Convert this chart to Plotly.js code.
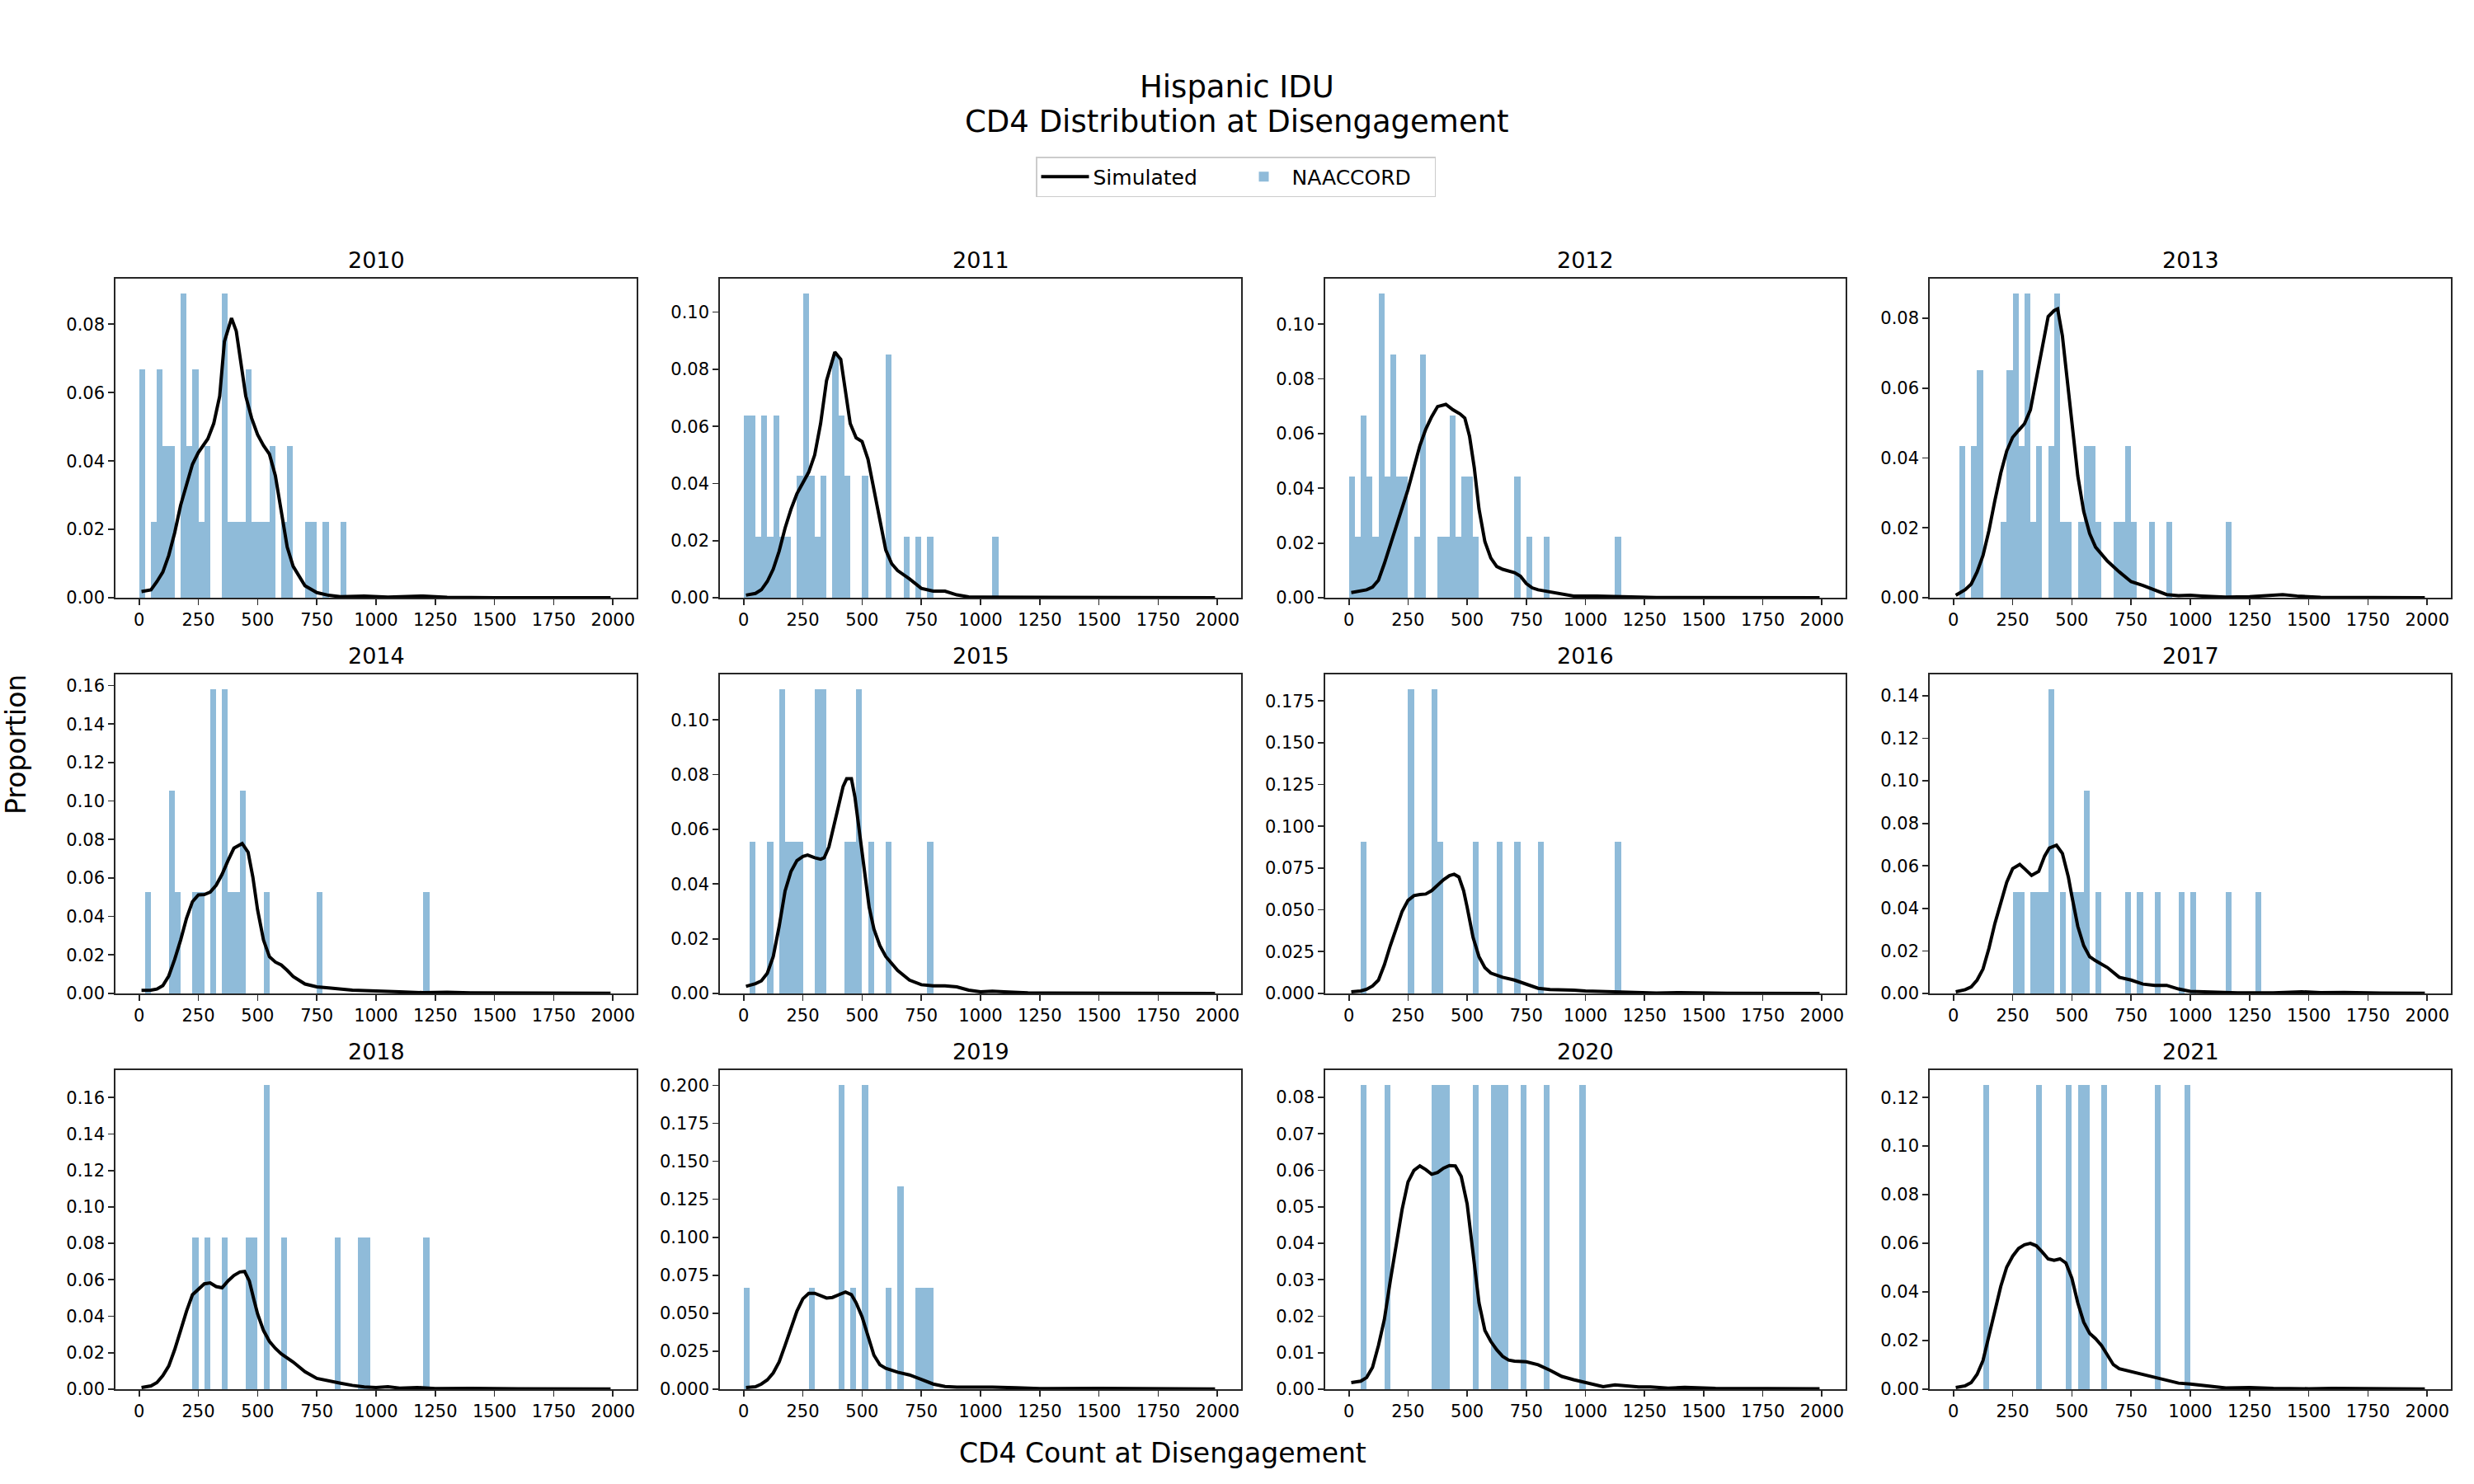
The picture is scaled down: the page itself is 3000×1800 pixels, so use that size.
<!DOCTYPE html>
<html>
<head>
<meta charset="utf-8">
<script src="https://cdn.plot.ly/plotly-3.0.1.min.js"></script>
<style>html,body{margin:0;padding:0;background:#fff;} #chart{width:3000px;height:1800px;}</style>
</head>
<body>
<div id="chart"></div>
<script>
// ---------- DATA ----------
const years = ['2010','2011','2012','2013','2014','2015','2016','2017','2018','2019','2020','2021'];
const xTickVals = [0,250,500,750,1000,1250,1500,1750,2000];

// NAACCORD histogram: bin start (CD4, bin width 25) and proportion
const bins2010 = [0,50,75,100,125,175,200,225,250,275,350,375,400,425,450,475,500,525,550,600,625,700,725,775,850];
const prop2010 = [0.0667,0.0222,0.0667,0.0444,0.0444,0.0889,0.0444,0.0667,0.0222,0.0444,0.0889,0.0222,0.0222,0.0222,0.0667,0.0222,0.0222,0.0222,0.0444,0.0222,0.0444,0.0222,0.0222,0.0222,0.0222];
const bins2011 = [0,25,50,75,100,125,150,175,225,250,275,300,325,375,400,425,500,600,675,725,775,1050];
const prop2011 = [0.0638,0.0638,0.0213,0.0638,0.0213,0.0638,0.0213,0.0213,0.0426,0.1064,0.0426,0.0213,0.0426,0.0851,0.0638,0.0426,0.0426,0.0851,0.0213,0.0213,0.0213,0.0213];
const bins2012 = [0,25,50,75,100,125,150,175,200,225,275,300,375,400,425,450,475,500,525,700,750,825,1125];
const prop2012 = [0.0444,0.0222,0.0667,0.0444,0.0222,0.1111,0.0444,0.0889,0.0444,0.0444,0.0222,0.0889,0.0222,0.0222,0.0667,0.0222,0.0444,0.0444,0.0222,0.0444,0.0222,0.0222,0.0222];
const bins2013 = [25,75,100,200,225,250,275,300,325,350,400,425,450,475,525,550,575,600,675,700,725,750,825,900,1150];
const prop2013 = [0.0435,0.0435,0.0652,0.0217,0.0652,0.0870,0.0435,0.0870,0.0217,0.0435,0.0435,0.0870,0.0217,0.0217,0.0217,0.0435,0.0435,0.0217,0.0217,0.0217,0.0435,0.0217,0.0217,0.0217,0.0217];
const bins2014 = [25,125,150,225,250,300,350,375,400,425,525,750,1200];
const prop2014 = [0.0526,0.1053,0.0526,0.0526,0.0526,0.1579,0.1579,0.0526,0.0526,0.1053,0.0526,0.0526,0.0526];
const bins2015 = [25,100,150,175,200,225,300,325,425,450,475,525,600,775];
const prop2015 = [0.0556,0.0556,0.1111,0.0556,0.0556,0.0556,0.1111,0.1111,0.0556,0.0556,0.1111,0.0556,0.0556,0.0556];
const bins2016 = [50,250,350,375,525,625,700,800,1125];
const prop2016 = [0.0909,0.1818,0.1818,0.0909,0.0909,0.0909,0.0909,0.0909,0.0909];
const bins2017 = [250,275,325,350,375,400,450,500,525,550,600,725,775,850,950,1000,1150,1275];
const prop2017 = [0.0476,0.0476,0.0476,0.0476,0.0476,0.1429,0.0476,0.0476,0.0476,0.0952,0.0476,0.0476,0.0476,0.0476,0.0476,0.0476,0.0476,0.0476];
const bins2018 = [225,275,350,450,475,525,600,825,925,950,1200];
const prop2018 = [0.0833,0.0833,0.0833,0.0833,0.0833,0.1667,0.0833,0.0833,0.0833,0.0833,0.0833];
const bins2019 = [0,275,400,450,500,600,650,725,750,775];
const prop2019 = [0.0667,0.0667,0.2,0.0667,0.2,0.0667,0.1333,0.0667,0.0667,0.0667];
const bins2020 = [50,150,350,375,400,525,600,625,650,725,825,975];
const prop2020 = [0.0833,0.0833,0.0833,0.0833,0.0833,0.0833,0.0833,0.0833,0.0833,0.0833,0.0833,0.0833];
const bins2021 = [125,350,475,525,550,625,850,975];
const prop2021 = [0.125,0.125,0.125,0.125,0.125,0.125,0.125,0.125];

// Simulated density curves
const simX2010 = [10,50,75,100,125,150,175,200,225,250,275,290,315,340,360,390,410,430,450,475,500,525,550,575,600,625,650,700,750,800,850,950,1050,1200,1300,1500,1990];
const simY2010 = [0.0018,0.0023,0.0047,0.0075,0.0124,0.019,0.027,0.033,0.039,0.0425,0.045,0.0465,0.051,0.059,0.075,0.0818,0.078,0.068,0.059,0.0525,0.0477,0.0445,0.042,0.0357,0.025,0.0148,0.0092,0.0035,0.0015,0.0007,0.0003,0.0005,0.0002,0.0005,0.0001,0,0];
const simX2011 = [10,50,75,100,125,150,175,200,225,250,275,300,325,350,385,410,430,450,475,500,525,550,575,600,625,650,700,750,800,850,900,950,1000,1990];
const simY2011 = [0.0009,0.0015,0.0028,0.0057,0.010,0.0163,0.0244,0.031,0.0364,0.040,0.044,0.050,0.061,0.076,0.086,0.0835,0.0725,0.061,0.056,0.0547,0.0485,0.038,0.0263,0.0167,0.0119,0.0095,0.0066,0.0033,0.0023,0.0023,0.001,0.0003,0.0002,0];
const simX2012 = [10,50,75,100,125,150,175,200,225,250,275,300,325,350,375,410,440,470,490,510,530,550,575,600,625,650,700,725,750,775,800,850,900,950,1050,1150,1300,1990];
const simY2012 = [0.0019,0.0024,0.0029,0.0039,0.0064,0.0125,0.0195,0.0265,0.0325,0.0396,0.0476,0.0556,0.0616,0.0662,0.0699,0.0707,0.0687,0.0672,0.0657,0.0591,0.0476,0.0325,0.0205,0.0145,0.0114,0.0104,0.0092,0.0079,0.0052,0.0036,0.0029,0.0022,0.0012,0.0006,0.0006,0.0003,0.0001,0];
const simX2013 = [10,50,75,100,125,150,175,200,225,250,275,300,325,350,375,400,425,440,460,480,500,525,550,575,600,650,700,750,800,850,900,950,1000,1050,1150,1250,1320,1390,1450,1550,1990];
const simY2013 = [0.0007,0.0023,0.0039,0.0074,0.0121,0.0192,0.0278,0.0357,0.042,0.0459,0.0479,0.0498,0.0538,0.0624,0.0718,0.0805,0.0822,0.0827,0.075,0.0624,0.0498,0.0349,0.0247,0.0184,0.0145,0.0105,0.0074,0.0046,0.0035,0.0023,0.0009,0.0006,0.0007,0.0005,0.0002,0.0003,0.0005,0.0009,0.0005,0.0001,0];
const simX2014 = [10,50,75,100,125,150,175,200,225,250,275,300,325,350,375,400,435,460,480,500,525,550,575,600,625,650,700,750,800,850,900,1000,1050,1100,1200,1300,1400,1990];
const simY2014 = [0.0016,0.0017,0.0023,0.0041,0.0091,0.0177,0.0277,0.0391,0.0477,0.0512,0.0514,0.0527,0.0562,0.0619,0.069,0.0755,0.0779,0.0734,0.0605,0.0434,0.0277,0.0191,0.0163,0.0148,0.012,0.0088,0.0049,0.0034,0.0029,0.0023,0.0017,0.0013,0.0009,0.0009,0.0004,0.0006,0.0003,0.0001];
const simX2015 = [10,50,75,100,125,150,175,200,225,250,270,300,325,340,360,380,400,420,435,455,470,485,500,515,530,550,575,600,650,700,750,800,850,900,950,1000,1050,1100,1200,1990];
const simY2015 = [0.0026,0.0036,0.0046,0.0074,0.0135,0.0245,0.0375,0.0446,0.0486,0.0501,0.0506,0.0496,0.0491,0.0496,0.0536,0.0606,0.0687,0.0757,0.0785,0.0785,0.0717,0.0616,0.0506,0.0396,0.0315,0.0235,0.0175,0.0135,0.0084,0.0049,0.0032,0.0028,0.0028,0.0024,0.0012,0.0006,0.0008,0.0006,0.0002,0];
const simX2016 = [10,50,75,100,125,150,175,200,225,250,275,300,325,350,375,400,425,445,465,485,500,525,550,575,600,625,650,700,750,800,850,900,950,1000,1100,1200,1300,1400,1600,1990];
const simY2016 = [0.001,0.0015,0.0025,0.0045,0.008,0.0171,0.0286,0.0393,0.0491,0.0557,0.0585,0.0592,0.0595,0.0615,0.0647,0.068,0.0705,0.0713,0.0697,0.0615,0.0516,0.0335,0.022,0.0154,0.0122,0.0108,0.0097,0.008,0.0056,0.0031,0.0023,0.0023,0.002,0.0015,0.001,0.0007,0.0003,0.0005,0.0001,0];
const simX2017 = [10,50,75,100,125,150,175,200,225,250,280,300,330,360,385,405,435,460,485,500,525,550,575,600,650,700,750,800,850,900,950,1000,1100,1200,1350,1470,1550,1650,1800,1990];
const simY2017 = [0.0008,0.0018,0.0031,0.0063,0.0115,0.0212,0.0329,0.0432,0.0523,0.0587,0.0607,0.0587,0.0555,0.0574,0.0646,0.0684,0.0697,0.0659,0.0549,0.0458,0.0316,0.0225,0.0173,0.0154,0.0122,0.0076,0.0063,0.0044,0.0038,0.0038,0.0021,0.001,0.0005,0.0003,0.0003,0.0008,0.0004,0.0005,0.0002,0.0001];
const simX2018 = [10,50,75,100,125,150,175,200,225,250,275,300,325,350,375,400,425,445,465,485,500,525,550,575,600,650,700,750,800,850,900,950,1000,1050,1100,1175,1250,1400,1600,1990];
const simY2018 = [0.0009,0.0018,0.0036,0.0074,0.0127,0.0217,0.0322,0.0428,0.0518,0.0548,0.0578,0.0583,0.0563,0.0556,0.0594,0.0624,0.0643,0.0646,0.0594,0.0488,0.0413,0.0322,0.0262,0.0224,0.0194,0.0149,0.0096,0.0059,0.0044,0.0033,0.0021,0.0012,0.0009,0.0014,0.0006,0.0009,0.0003,0.0005,0.0002,0.0001];
const simX2019 = [10,50,75,100,125,150,175,200,225,250,275,300,325,350,375,400,430,455,475,500,525,550,575,600,650,700,750,800,850,900,1000,1050,1150,1250,1500,1700,1990];
const simY2019 = [0.0011,0.0016,0.0034,0.0061,0.0107,0.0179,0.0288,0.0405,0.0514,0.0595,0.0631,0.0631,0.0613,0.06,0.0604,0.0622,0.064,0.0622,0.0568,0.0477,0.0351,0.0224,0.0161,0.0137,0.0112,0.0094,0.0065,0.0034,0.0018,0.0014,0.0013,0.0014,0.0009,0.0004,0.0005,0.0002,0.0001];
const simX2020 = [10,50,75,100,125,150,175,200,225,250,275,300,325,350,375,400,425,450,475,500,525,550,575,600,625,650,675,700,750,800,850,900,950,1000,1050,1075,1125,1175,1225,1275,1350,1420,1550,1990];
const simY2020 = [0.0018,0.0022,0.0032,0.006,0.012,0.0191,0.0297,0.0402,0.0493,0.0568,0.06,0.0612,0.0602,0.0589,0.0594,0.0606,0.0613,0.0612,0.0583,0.0508,0.0372,0.0237,0.0161,0.0131,0.0108,0.009,0.008,0.0077,0.0075,0.0067,0.0052,0.0035,0.0026,0.0018,0.0009,0.0007,0.0012,0.0009,0.0006,0.0006,0.0003,0.0005,0.0002,0.0001];
const simX2021 = [10,50,75,100,125,150,175,200,225,250,275,300,325,350,375,400,425,450,475,500,525,550,575,600,625,650,675,700,750,800,850,900,950,1000,1050,1100,1150,1250,1350,1500,1600,1990];
const simY2021 = [0.0007,0.0014,0.0027,0.0061,0.0118,0.0219,0.0321,0.0423,0.0502,0.0547,0.0579,0.0594,0.06,0.059,0.0564,0.0536,0.053,0.0536,0.0519,0.0457,0.0355,0.0276,0.023,0.0208,0.018,0.014,0.0101,0.0084,0.0072,0.0059,0.005,0.0038,0.0025,0.0021,0.0016,0.0008,0.0005,0.0007,0.0003,0.0002,0.0003,0.0001];

// y tick spacing per panel
const yDtick = [0.02,0.02,0.02,0.02,0.02,0.02,0.025,0.02,0.02,0.025,0.01,0.02];
const yFormat = ['.2f','.2f','.2f','.2f','.2f','.2f','.3f','.2f','.2f','.3f','.2f','.2f'];

// ---------- BUILD ----------
const binsAll = [bins2010,bins2011,bins2012,bins2013,bins2014,bins2015,bins2016,bins2017,bins2018,bins2019,bins2020,bins2021];
const propAll = [prop2010,prop2011,prop2012,prop2013,prop2014,prop2015,prop2016,prop2017,prop2018,prop2019,prop2020,prop2021];
const simXAll = [simX2010,simX2011,simX2012,simX2013,simX2014,simX2015,simX2016,simX2017,simX2018,simX2019,simX2020,simX2021];
const simYAll = [simY2010,simY2011,simY2012,simY2013,simY2014,simY2015,simY2016,simY2017,simY2018,simY2019,simY2020,simY2021];

const W = 3000, H = 1800;
const colPx = [[140,772],[873,1505],[1607,2238],[2340,2972]];
const rowPx = [[338,725],[818,1205],[1298,1685]];
const FONT = 'DejaVu Sans, Liberation Sans, sans-serif';

const data = [];
const layout = {
  width: W, height: H,
  margin: {l:0, r:0, t:0, b:0},
  paper_bgcolor: '#ffffff', plot_bgcolor: '#ffffff',
  font: {family: FONT, color: '#000000'},
  showlegend: true,
  legend: {
    orientation: 'h', x: 0.4995, xanchor: 'center', y: 1 - 190/H, yanchor: 'top',
    bordercolor: '#cccccc', borderwidth: 1.5, bgcolor: '#ffffff',
    font: {size: 25, family: FONT}, itemwidth: 58, traceorder: 'normal',
    entrywidth: 168, entrywidthmode: 'pixels'
  },
  bargap: 0,
  annotations: [],
  barmode: 'overlay'
};

years.forEach((yr, i) => {
  const r = Math.floor(i / 4), c = i % 4;
  const ax = i + 1;
  const xa = 'x' + (ax === 1 ? '' : ax), ya = 'y' + (ax === 1 ? '' : ax);
  const ymax = Math.max.apply(null, propAll[i]) * 1.05;
  const common = {
    showline: true, mirror: true, linecolor: '#262626', linewidth: 1.7,
    ticks: 'outside', ticklen: 7, tickwidth: 1.7, tickcolor: '#262626',
    showgrid: false, zeroline: false,
    tickfont: {size: 21, family: FONT, color: '#000000'}
  };
  layout['xaxis' + (ax === 1 ? '' : ax)] = Object.assign({}, common, {
    domain: [colPx[c][0]/W, colPx[c][1]/W], anchor: ya,
    range: [-100, 2100], tickmode: 'array', tickvals: xTickVals,
    ticktext: xTickVals.map(String)
  });
  layout['yaxis' + (ax === 1 ? '' : ax)] = Object.assign({}, common, {
    domain: [1 - rowPx[r][1]/H, 1 - rowPx[r][0]/H], anchor: xa,
    range: [0, ymax], tick0: 0, dtick: yDtick[i], tickformat: yFormat[i]
  });
  data.push({
    type: 'bar', x: binsAll[i], y: propAll[i], width: 25, offset: 0,
    xaxis: xa, yaxis: ya, name: 'NAACCORD', legendgroup: 'n', showlegend: i === 0,
    legendrank: 2,
    marker: {color: 'rgba(31,119,180,0.5)', line: {width: 0}}
  });
  data.push({
    type: 'scatter', mode: 'lines', x: simXAll[i], y: simYAll[i],
    xaxis: xa, yaxis: ya, name: 'Simulated', legendgroup: 's', showlegend: i === 0,
    legendrank: 1,
    line: {color: '#000000', width: 4}
  });
  layout.annotations.push({
    text: yr, xref: 'paper', yref: 'paper',
    x: (colPx[c][0] + colPx[c][1]) / 2 / W, y: 1 - rowPx[r][0]/H,
    xanchor: 'center', yanchor: 'middle', yshift: 23, showarrow: false,
    font: {size: 27, family: FONT, color: '#000000'}
  });
});

layout.annotations.push({
  text: 'Hispanic IDU', xref: 'paper', yref: 'paper',
  x: 0.5, y: 1 - 105/H, xanchor: 'center', yanchor: 'middle', showarrow: false,
  font: {size: 37, family: FONT, color: '#000000'}
});
layout.annotations.push({
  text: 'CD4 Distribution at Disengagement', xref: 'paper', yref: 'paper',
  x: 0.5, y: 1 - 147/H, xanchor: 'center', yanchor: 'middle', showarrow: false,
  font: {size: 37, family: FONT, color: '#000000'}
});
layout.annotations.push({
  text: 'CD4 Count at Disengagement', xref: 'paper', yref: 'paper',
  x: 1410/W, y: 1 - 1762/H, xanchor: 'center', yanchor: 'middle', showarrow: false,
  font: {size: 33, family: FONT, color: '#000000'}
});
layout.annotations.push({
  text: 'Proportion', xref: 'paper', yref: 'paper', textangle: -90,
  x: 19/W, y: 1 - 903/H, xanchor: 'center', yanchor: 'middle', showarrow: false,
  font: {size: 33, family: FONT, color: '#000000'}
});

Plotly.newPlot('chart', data, layout, {displayModeBar: false, staticPlot: true});
</script>
</body>
</html>
